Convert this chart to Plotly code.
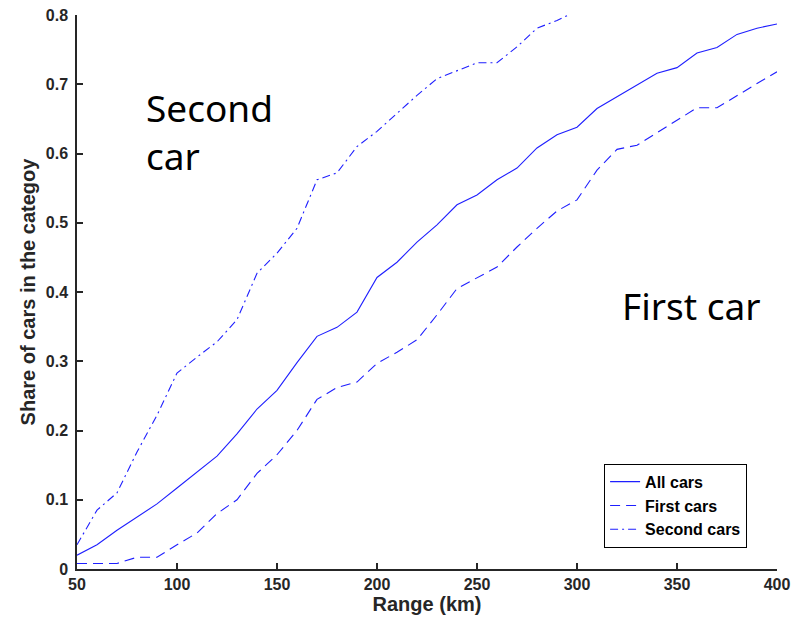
import plotly.graph_objects as go

range_km = [50, 60, 70, 80, 90, 100, 110, 120, 130, 140, 150, 160, 170, 180, 190, 200,
            210, 220, 230, 240, 250, 260, 270, 280, 290, 300, 310, 320, 330, 340, 350,
            360, 370, 380, 390, 400]

all_cars = [0.020, 0.035, 0.056, 0.075, 0.094, 0.117, 0.140, 0.163, 0.195, 0.231, 0.258,
            0.298, 0.336, 0.349, 0.371, 0.421, 0.443, 0.472, 0.497, 0.526, 0.540, 0.562,
            0.579, 0.608, 0.627, 0.638, 0.665, 0.682, 0.699, 0.716, 0.724, 0.745, 0.753,
            0.772, 0.781, 0.787]

first_cars = [0.008, 0.008, 0.008, 0.017, 0.017, 0.035, 0.052, 0.080, 0.100, 0.138, 0.165,
              0.200, 0.245, 0.262, 0.270, 0.297, 0.313, 0.331, 0.367, 0.405, 0.420, 0.436,
              0.465, 0.492, 0.517, 0.533, 0.576, 0.606, 0.612, 0.630, 0.648, 0.666, 0.666,
              0.684, 0.701, 0.718]

second_range = [50, 60, 70, 80, 90, 100, 110, 120, 130, 140, 150, 160, 170, 180, 190, 200,
                210, 220, 230, 240, 250, 260, 270, 280, 290, 300]
second_cars = [0.035, 0.085, 0.110, 0.169, 0.222, 0.283, 0.306, 0.328, 0.360, 0.427, 0.456,
               0.492, 0.562, 0.572, 0.610, 0.632, 0.658, 0.684, 0.708, 0.719, 0.731, 0.731,
               0.754, 0.781, 0.792, 0.806]

x_ticks = [50, 100, 150, 200, 250, 300, 350, 400]
y_ticks = [0, 0.1, 0.2, 0.3, 0.4, 0.5, 0.6, 0.7, 0.8]
y_tick_labels = ["0", "0.1", "0.2", "0.3", "0.4", "0.5", "0.6", "0.7", "0.8"]

blue = "#1f1fff"
font_family = "Liberation Sans, Arial, sans-serif"

fig = go.Figure()
fig.add_trace(go.Scatter(x=range_km, y=all_cars, mode="lines", name="All cars",
                         line=dict(color=blue, width=1.1)))
fig.add_trace(go.Scatter(x=range_km, y=first_cars, mode="lines", name="First cars",
                         line=dict(color=blue, width=1.1, dash="10px,6px")))
fig.add_trace(go.Scatter(x=second_range, y=second_cars, mode="lines", name="Second cars",
                         line=dict(color=blue, width=1.1, dash="8px,4px,2px,4px")))

tick_font = dict(family=font_family, size=16, color="#262626", weight="bold")

fig.update_layout(
    width=792, height=625,
    margin=dict(l=77, r=15, t=15, b=56, autoexpand=False),
    paper_bgcolor="white", plot_bgcolor="white",
    showlegend=True,
    legend=dict(x=0.753, y=0.19, xanchor="left", yanchor="top",
                bgcolor="white", bordercolor="black", borderwidth=1,
                font=dict(family=font_family, size=16, color="black", weight="bold"),
                tracegroupgap=0, itemwidth=30),
    xaxis=dict(range=[50, 400], tickvals=x_ticks, ticks="inside", ticklen=6,
               tickwidth=1.5, tickcolor="#262626", automargin=False,
               ticklabeloverflow="allow",
               showline=True, linecolor="#262626", linewidth=1.5, showgrid=False,
               zeroline=False, tickfont=tick_font,
               title=dict(text="Range (km)", font=dict(family=font_family,
                                                      size=20, color="#262626", weight="bold"),
                          standoff=3)),
    yaxis=dict(range=[0, 0.8], tickvals=y_ticks, ticktext=y_tick_labels, ticks="inside",
               ticklen=6, tickwidth=1.5, tickcolor="#262626", automargin=False,
               ticklabeloverflow="allow", ticklabelstandoff=4,
               showline=True, linecolor="#262626", linewidth=1.5, showgrid=False,
               zeroline=False, tickfont=tick_font,
               title=dict(text="Share of cars in the categoy",
                          font=dict(family=font_family, size=20,
                                    color="#262626", weight="bold"),
                          standoff=5)),
    annotations=[
        dict(x=0.095, y=0.79, xref="paper", yref="paper", xanchor="left", yanchor="middle",
             text="Second<br>car", showarrow=False, align="left",
             font=dict(family="Noto Sans, Open Sans, sans-serif", size=37, color="black")),
        dict(x=0.775, y=0.475, xref="paper", yref="paper", xanchor="left", yanchor="middle",
             text="First car", showarrow=False, align="left",
             font=dict(family="Noto Sans, Open Sans, sans-serif", size=37, color="black")),
    ],
)

fig.write_html("out.html", config={"displayModeBar": False},
               post_script="document.body.style.margin='0';document.body.style.overflow='hidden';")
